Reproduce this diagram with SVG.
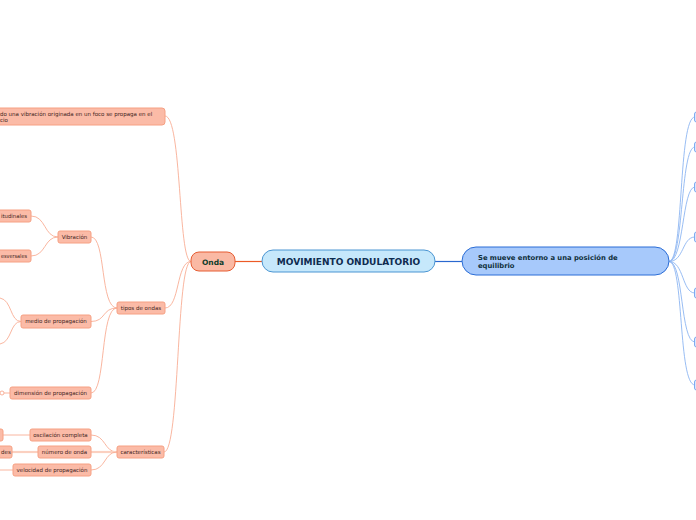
<svg xmlns="http://www.w3.org/2000/svg" width="696" height="520" viewBox="0 0 696 520">
<style>
.n rect{fill:#fbbba7;stroke:#f6a083;stroke-width:1}
.n text{font-family:"DejaVu Sans",Verdana,sans-serif;font-size:5.5px;fill:#3e241d}
.c path{fill:none;stroke:#f8ae95;stroke-width:0.9}
.b path{fill:none;stroke:#8db6f2;stroke-width:0.9}
.r rect{fill:#dbe8fd;stroke:#7eaaf0;stroke-width:1}
</style>
<rect width="696" height="520" fill="#ffffff"/>
<g class="c" id="connectors-left">
<path d="M191,261.5 C178,261.5 182,116 165,116"/>
<path d="M191,261.5 C176,261.5 180,308 165,308"/>
<path d="M191,261.5 C176,261.5 180,452 164,452"/>
<path d="M117,308 C100,308 106,237 91,237"/>
<path d="M117,308 C102,308 106,321.5 91,321.5"/>
<path d="M117,308 C100,308 106,393 91,393"/>
<path d="M58,237 C44,237 46,216 31,216"/>
<path d="M58,237 C44,237 46,256 31,256"/>
<path d="M21,321.5 C10,321.5 12,300 0,298"/>
<path d="M21,321.5 C10,321.5 12,342 0,344"/>
<path d="M10,393 L4,393"/>
<path d="M117,452 C104,452 106,435 91,435"/>
<path d="M117,452 L91,452" style="stroke:#fbd0c0;stroke-width:2.2"/>
<path d="M117,452 C104,452 106,470 91,470"/>
<path d="M30,435 L3,435"/>
<path d="M38,452 L12,452" style="stroke:#fbd0c0;stroke-width:2.2"/>
<path d="M13,470 L0,470"/>
<path d="M235,261.5 L262,261.5" style="stroke:#ec5a26;stroke-width:1.2"/>
</g>
<g class="b" id="connectors-right">
<path d="M435,261.5 L462,261.5" style="stroke:#2a68cf;stroke-width:1.2"/>
<path d="M669,261.5 C684,261.5 678,117 695,117"/>
<path d="M669,261.5 C684,261.5 680,147 695,147"/>
<path d="M669,261.5 C684,261.5 682,187 695,187"/>
<path d="M669,261.5 C684,261.5 682,237 695,237"/>
<path d="M669,261.5 C684,261.5 682,293 695,293"/>
<path d="M669,261.5 C684,261.5 680,342 695,342"/>
<path d="M669,261.5 C684,261.5 678,385 695,385"/>
</g>
<g id="root">
<rect x="262" y="250" width="173" height="22" rx="11" fill="#c6e8fb" stroke="#4a95d2" stroke-width="1"/>
<text x="348.5" y="264.5" text-anchor="middle" font-family="DejaVu Sans,Verdana,sans-serif" font-size="9" font-weight="bold" fill="#0e2b50">MOVIMIENTO ONDULATORIO</text>
</g>
<g id="onda">
<rect x="191" y="252" width="44" height="19" rx="8" fill="#fab9a4" stroke="#e65d33" stroke-width="1"/>
<text x="213" y="264.5" text-anchor="middle" font-family="DejaVu Sans,Verdana,sans-serif" font-size="7.5" font-weight="bold" fill="#0f3d2c">Onda</text>
</g>
<g id="semueve">
<rect x="462" y="247" width="207" height="28" rx="14" fill="#a7c9fb" stroke="#2b6dd6" stroke-width="1"/>
<text font-family="DejaVu Sans,Verdana,sans-serif" font-size="6.8" font-weight="bold" fill="#0f2f3a"><tspan x="478" y="260">Se mueve entorno a una posición de</tspan><tspan x="478" y="268">equilibrio</tspan></text>
</g>
<g class="n" id="definicion">
<rect x="-10" y="108" width="175" height="17" rx="3"/>
<text><tspan x="0" y="115.5">do una vibración originada en un foco se propaga en el</tspan><tspan x="0" y="122">cio</tspan></text>
</g>
<g class="n" id="tipos"><rect x="117" y="302" width="48" height="12" rx="2"/><text x="141" y="309.8" text-anchor="middle">tipos de ondas</text></g>
<g class="n" id="vibracion"><rect x="58" y="231" width="33" height="12" rx="2"/><text x="74.5" y="238.8" text-anchor="middle">Vibración</text></g>
<g class="n" id="longitudinales"><rect x="-20" y="210" width="51" height="12" rx="2"/><text x="1" y="217.8" textLength="26" lengthAdjust="spacingAndGlyphs">itudinales</text></g>
<g class="n" id="transversales"><rect x="-20" y="250" width="51" height="12" rx="2"/><text x="1" y="257.8" textLength="26" lengthAdjust="spacingAndGlyphs">esversales</text></g>
<g class="n" id="medio"><rect x="21" y="315" width="70" height="13" rx="2"/><text x="56" y="323.3" text-anchor="middle">medio de propagación</text></g>
<g class="n" id="dimension"><rect x="10" y="387" width="81" height="12" rx="2"/><text x="50.5" y="394.8" text-anchor="middle">dimensión de propagación</text></g>
<circle cx="2" cy="393" r="2" fill="#ffffff" stroke="#f6a083" stroke-width="0.8"/>
<g class="n" id="caracteristicas"><rect x="117" y="446" width="47" height="12" rx="2"/><text x="140.5" y="453.8" text-anchor="middle">características</text></g>
<g class="n" id="oscilacion"><rect x="30" y="429" width="61" height="12" rx="2"/><text x="60.5" y="436.8" text-anchor="middle">oscilación completa</text></g>
<g class="n" id="numero"><rect x="38" y="446" width="53" height="12" rx="2"/><text x="64.5" y="453.8" text-anchor="middle">número de onda</text></g>
<g class="n" id="velocidad"><rect x="13" y="464" width="78" height="12" rx="2"/><text x="52" y="471.8" text-anchor="middle">velocidad de propagación</text></g>
<g class="n" id="periodo"><rect x="-40" y="429" width="43" height="12" rx="2"/></g>
<g class="n" id="longitudonda"><rect x="-40" y="446" width="52" height="12" rx="2"/><text x="1" y="453.8">des</text></g>
<g class="r" id="right-nodes">
<rect x="694.5" y="112" width="40" height="10" rx="2"/>
<rect x="694.5" y="142" width="40" height="10" rx="2"/>
<rect x="694.5" y="182" width="40" height="10" rx="2"/>
<rect x="694.5" y="232" width="40" height="10" rx="2"/>
<rect x="694.5" y="288" width="40" height="10" rx="2"/>
<rect x="694.5" y="337" width="40" height="10" rx="2"/>
<rect x="694.5" y="380" width="40" height="10" rx="2"/>
</g>
</svg>
